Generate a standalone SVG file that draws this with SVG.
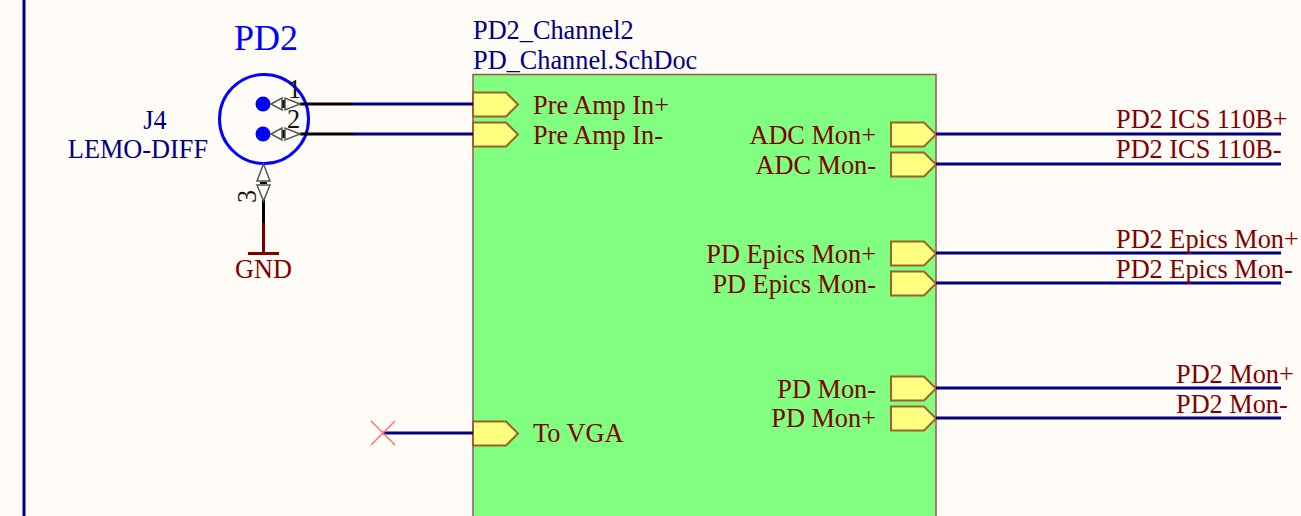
<svg xmlns="http://www.w3.org/2000/svg" width="1301" height="516" viewBox="0 0 1301 516">
<style>
text{font-family:"Liberation Serif","Times New Roman",serif;font-size:26.3px}
.r{fill:#800000}
.b{fill:#000080}
.end{text-anchor:end}
.wire{stroke:#000080;stroke-width:3;fill:none}
.pinw{stroke:#000;stroke-width:3;fill:none}
.port{fill:#ffff80;stroke:#a0602a;stroke-width:2;stroke-linejoin:miter}
.arr{fill:#fffcf7;stroke:#555;stroke-width:1.5}
.tick{stroke:#000;stroke-width:2}
.pn{fill:#111}
</style>
<defs>
<path id="pr" class="port" d="M0-12H33L45 0L33 12H0Z"/>
</defs>
<rect width="1301" height="516" fill="#fffcf7"/>
<path d="M24 0V516" stroke="#000080" stroke-width="3"/>
<g id="sheet">
<rect x="473" y="74.500" width="463" height="460" fill="#80ff80" stroke="#a05050" stroke-width="1.500"/>
<text class="b" x="473" y="39">PD2_Channel2</text>
<text class="b" x="473" y="69">PD_Channel.SchDoc</text>
<use href="#pr" x="473" y="104.500"/>
<use href="#pr" x="473" y="134.500"/>
<use href="#pr" x="473" y="433.500"/>
<use href="#pr" x="891" y="134.500"/>
<use href="#pr" x="891" y="164.500"/>
<use href="#pr" x="891" y="253.500"/>
<use href="#pr" x="891" y="283.500"/>
<use href="#pr" x="891" y="388.500"/>
<use href="#pr" x="891" y="418.500"/>
<text class="r" x="533" y="114">Pre Amp In+</text>
<text class="r" x="533" y="144">Pre Amp In-</text>
<text class="r" x="533" y="442">To VGA</text>
<text class="r end" x="876" y="144">ADC Mon+</text>
<text class="r end" x="876" y="174">ADC Mon-</text>
<text class="r end" x="876" y="263">PD Epics Mon+</text>
<text class="r end" x="876" y="293">PD Epics Mon-</text>
<text class="r end" x="876" y="398">PD Mon-</text>
<text class="r end" x="876" y="427">PD Mon+</text>
</g>
<g id="connectors">
<path class="wire" d="M353 104H473M353 134H473M383 433H473"/>
<path class="wire" d="M936 134H1281M936 164H1281M936 253H1281M936 283H1281M936 388H1281M936 418H1281"/>
<path d="M263.500 223V253" stroke="#800000" stroke-width="3"/>
<path d="M371 421L395 445M395 421L371 445" stroke="#ff7070" stroke-width="1.500"/>
</g>
<g id="J4">
<circle cx="264" cy="119" r="44.500" fill="none" stroke="#0000ff" stroke-width="3"/>
<circle cx="263" cy="104" r="7.500" fill="#0000ff"/>
<circle cx="263" cy="134" r="7.500" fill="#0000ff"/>
<path class="pinw" d="M300 104H353M300 134H353M263.500 200V223"/>
<path class="arr" d="M271 104L282 98V110Z"/>
<path class="arr" d="M300 104L285 98V110Z"/>
<path class="tick" d="M283.500 100V108"/>
<path class="arr" d="M271 134L282 128V140Z"/>
<path class="arr" d="M300 134L285 128V140Z"/>
<path class="tick" d="M283.500 130V138"/>
<path class="arr" d="M263.500 164L257 181H270Z"/>
<path class="arr" d="M263.500 201L257 185H270Z"/>
<path class="tick" d="M260 183H267"/>
<text class="pn" x="288" y="98">1</text>
<text class="pn" x="287" y="128">2</text>
<text class="pn" transform="translate(256 203) rotate(-90)">3</text>
<text x="234" y="50" fill="#0000ff" style="font-size:36px">PD2</text>
<text class="b" x="155" y="129" text-anchor="middle">J4</text>
<text class="b" x="138" y="158" text-anchor="middle">LEMO-DIFF</text>
</g>
<g id="GND">
<path d="M248 253.500H279" stroke="#800000" stroke-width="3"/>
<text class="r" x="263.500" y="278" text-anchor="middle">GND</text>
</g>
<g id="net-labels">
<text class="r" x="1116" y="128">PD2 ICS 110B+</text>
<text class="r" x="1116" y="158">PD2 ICS 110B-</text>
<text class="r" x="1116" y="248">PD2 Epics Mon+</text>
<text class="r" x="1116" y="278">PD2 Epics Mon-</text>
<text class="r" x="1176" y="383">PD2 Mon+</text>
<text class="r" x="1176" y="413">PD2 Mon-</text>
</g>
</svg>
